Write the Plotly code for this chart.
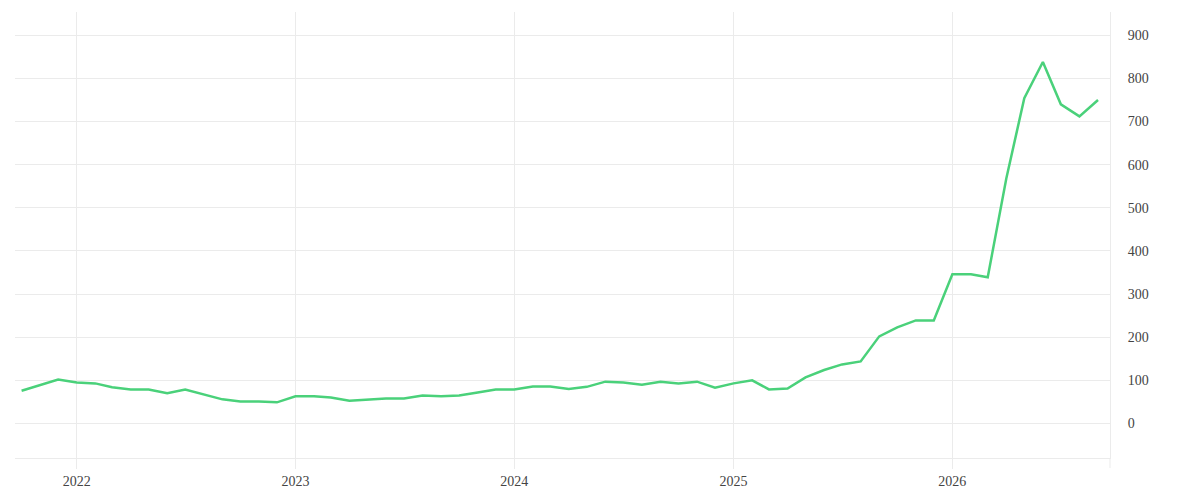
import pandas as pd
import plotly.graph_objects as go

# monthly values, Oct 2021 .. Sep 2026
months = pd.date_range("2021-10-01", "2026-09-01", freq="MS")
values = [
    76, 89, 102,                                          # 2021 Oct-Dec
    95, 93, 84, 79, 79, 70, 79, 67, 56, 51, 51, 49,       # 2022
    63, 63, 60, 53, 56, 58, 58, 65, 63, 65, 72, 79,       # 2023
    79, 86, 86, 80, 85, 97, 95, 90, 97, 93, 97, 83,       # 2024
    93, 100, 79, 81, 107, 124, 137, 144, 202, 223, 239, 239,  # 2025
    346, 346, 339, 568, 754, 838, 740, 712, 750,          # 2026 Jan-Sep
]

grid = "#ebebeb"

fig = go.Figure()
fig.add_trace(go.Scatter(
    x=months, y=values,
    mode="lines",
    line=dict(color="#4ad17a", width=2.5),
    hoverinfo="x+y",
))

# page body adds an 8px offset, so margins are shifted to compensate
fig.update_layout(
    width=1200, height=500,
    margin=dict(l=7, r=98, t=4, b=50),
    paper_bgcolor="white", plot_bgcolor="white",
    showlegend=False,
    font=dict(family="Liberation Serif", size=14, color="#444"),
    xaxis=dict(
        range=["2021-09-20", "2026-09-21"],
        dtick="M12", tick0="2022-01-01", tickformat="%Y",
        showgrid=True, gridcolor=grid, gridwidth=1,
        showline=True, linecolor=grid, linewidth=1,
        ticks="outside", ticklen=10, tickcolor=grid,
        zeroline=False,
    ),
    yaxis=dict(
        side="right",
        range=[-80, 954],
        dtick=100, tick0=0,
        showgrid=True, gridcolor=grid, gridwidth=1,
        showline=True, linecolor=grid, linewidth=1,
        ticks="outside", ticklen=14, tickcolor="rgba(0,0,0,0)",
        zeroline=False,
    ),
    shapes=[dict(
        type="line", xref="paper", yref="paper",
        x0=1, x1=1, y0=0, y1=-10 / 446,
        line=dict(color=grid, width=1),
    )],
)

fig.write_html("out.html")
